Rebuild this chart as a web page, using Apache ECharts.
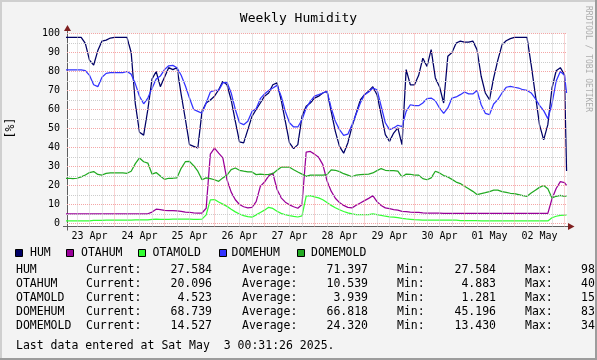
<!DOCTYPE html>
<html><head><meta charset="utf-8">
<script src="https://cdn.jsdelivr.net/npm/echarts@6/dist/echarts.min.js"></script>
<style>html,body{margin:0;padding:0;background:#f3f3f3}#c{width:597px;height:360px}</style>
</head><body><div id="c"></div>
<script>
// hours since 23 Apr 00:00
const times = [0,2,4,6,8,10,12,14,16,18,20,22,24,26,28,30,32,34,36,38,40,42,44,46,48,50,52,54,56,58,60,62,64,66,68,70,72,74,76,78,80,82,84,86,88,90,92,94,96,98,100,102,104,106,108,110,112,114,116,118,120,122,124,126,128,130,132,134,136,138,140,142,144,146,148,150,152,154,156,158,160,162,164,166,168,170,172,174,176,178,180,182,184,186,188,190,192,194,196,198,200,202,204,206,208,210,212,214,216,218,220,222,224,226,228,230,232,234,236,238,240,241];

const hum = [98,98,98,98,98,94.8,86,83.4,91,96,96.5,97.6,98,98,98,98,90,63,48,46.5,60,76,80,72,77,82,81,82,68,55,41.5,
40.6,39.7,59,63.4,65,67,70.4,74.8,73,65,53.8,43,42.4,49.4,56.4,60,63.4,67,68.7,73,74,65,53.8,42.4,39.4,41.5,56.4,61.7,63.4,66,
67,68.7,69.6,59,48.5,40.6,37,42.4,51,58,65,67.8,69.6,72,67.8,57.3,46.8,43.2,47.6,50.3,41.5,81,73,73,78,87,82.7,91.5,76.6,72,
63.4,88,90,95,96,95.5,95.5,96,91.5,77.5,68.7,65.2,76.6,86,94,96.2,97.3,98,98,98,98,83.6,67.8,52,44,52,71.3,80.4,82,78.3,27.6];

const otahum = [5.1,5.1,5.1,5.1,5.1,5.1,5.1,5.1,5.1,5.1,5.1,5.1,5.1,5.1,5.1,5.1,5.1,5.1,5.1,5.1,5.1,6,7.5,7.3,6.9,6.8,6.8,6.6,6.4,6,5.9,
5.6,5.5,5.5,8,36.5,39.7,37,34.5,23,16.5,12.5,10,8.8,8.2,8.5,11.5,19.5,21.8,25,26.5,18,13.5,11.2,9.8,8.8,8,10,37.6,37.9,36.5,
34.8,31,22.5,17,13.3,11,9.5,8.5,8.2,9.6,10.8,12,13.2,14.6,11.5,9.5,8.2,7.8,7.3,7,6.4,6.2,6,5.9,5.8,5.6,5.5,5.5,5.4,5.4,
5.3,5.3,5.3,5.3,5.3,5.3,5.3,5.3,5.3,5.3,5.3,5.3,5.3,5.3,5.3,5.3,5.3,5.3,5.3,5.3,5.3,5.3,5.3,5.3,5.3,5.3,13,18.4,22,21.5,20.1];

const otamold = [1.3,1.3,1.3,1.3,1.3,1.3,1.4,1.6,1.6,1.6,1.7,1.8,1.8,1.8,1.8,1.8,1.8,1.9,1.9,1.9,1.9,2.2,2.3,2.2,2.2,2.2,2.3,2.3,2.3,2.3,2.3,
2.2,2.2,2.3,4.5,12.4,12.6,11.3,10.2,9,7.5,6.1,5,4.1,3.6,3.3,4.5,5.8,7,8.5,7.9,6.4,5.3,4.6,4.1,3.7,3.4,4,14.4,14.6,14,
13.5,12.5,11,9.5,8.3,7.2,6.3,5.6,5,4.7,4.6,4.6,4.7,5,4.6,4.2,3.8,3.5,3.3,3.1,2.7,2.4,2.2,2,1.9,1.8,1.7,1.7,1.7,1.7,
1.8,1.8,1.8,1.7,1.5,1.5,1.5,1.5,1.5,1.4,1.3,1.3,1.3,1.3,1.3,1.3,1.3,1.3,1.3,1.3,1.3,1.3,1.3,1.3,1.3,1.3,3,3.8,4.2,4.4,4.5];

const domehum = [80.8,80.8,80.8,80.8,80.8,80.5,78,73,72,77,79,79.4,79.4,79.4,79.4,80,78.6,73.5,67,63,66,71,76,77.6,81,83,83.2,82,78,72.5,66,
60,59,58,63.4,69.2,70,70,74,74.3,68.7,60,53,52,53.8,59,60.4,65.7,68.2,70,71.3,72.7,67,59,53,50.8,50.8,54.6,60.8,64.3,67,
67.8,68.7,69.6,60.8,53.8,49.4,46.4,47,52,57.6,63.4,67.8,69.2,71.3,70.4,61.7,53,49.4,50.3,51.7,51,59,62.5,62,62,63.4,65.7,66,64.6,60.8,
58,60.8,66,66.6,67.8,69.2,68.2,68.2,70,62.5,58,57.3,62.9,65.2,68.7,71.7,72.2,71.7,71.3,70.4,70,68.7,65.7,62.2,59.4,55.2,63,75,80,78,68.7];

const domemold = [23.8,23.8,23.6,23.8,24.5,25.5,26.8,27.3,25.8,25.5,26.4,26.6,26.6,26.6,26.6,26.4,27.5,31.5,34.5,32.5,31.8,26,26.8,25,23.2,23.8,23.8,24,29,32.5,32.7,
30.4,27.5,23,24,23.6,23,22.2,24,25.4,28.3,29.2,28,27.5,27.1,27.1,25.7,26,25.7,25.9,26.2,28,29.6,29.6,29.6,28.3,27.1,26,24.8,25.4,25.4,
25.4,25.4,25.7,28.2,28,27.3,26.2,25.4,24.6,25.5,25.7,25.9,26,26.6,27.8,28.9,28,27.8,27.8,27.5,24.5,26,25.9,25.4,25.4,23.6,23,24,27.5,26.6,
25.2,24.5,23.2,21.8,21,19.6,18.3,16.9,15.2,15.7,16.2,16.8,17.5,17.5,16.8,16.4,15.9,15.7,15.2,14.6,14.3,16,17.5,19,20,18.3,13.4,14.3,14.8,14.3,14.5];

const dayLabels = ['23 Apr','24 Apr','25 Apr','26 Apr','27 Apr','28 Apr','29 Apr','30 Apr','01 May','02 May'];
const dayLabelHours = [12,36,60,84,108,132,156,180,204,228];
const yTickValues = [0,10,20,30,40,50,60,70,80,90,100];

const seriesNames = ['HUM','OTAHUM','OTAMOLD','DOMEHUM','DOMEMOLD'];
const curVals = ['27.584','20.096','4.523','68.739','14.527'];
const avgVals = ['71.397','10.539','3.939','66.818','24.320'];
const minVals = ['27.584','4.883','1.281','45.196','13.430'];
const maxVals = ['98','40','15','83','34'];
const lastUpdate = 'Last data entered at Sat May  3 00:31:26 2025.';

const colors = ['#000066','#990099','#33ff33','#3333ff','#22aa22'];
const seriesValues = [hum, otahum, otamold, domehum, domemold];

const MONO = 'DejaVu Sans Mono';
const RED = '#f4a6a6';
const GRAY = '#cccccc';
const AXIS = '#5e5e5e';

const gridLines = [];
for (let h = 6; h <= 240; h += 6) {
  const li = dayLabelHours.indexOf(h);
  gridLines.push({
    xAxis: h,
    lineStyle: {color: h % 24 === 0 ? RED : GRAY, type: [1,1], width: 1},
    label: li >= 0
      ? {show: true, position: 'start', distance: 5, formatter: dayLabels[li], color: '#000', fontFamily: MONO, fontSize: 10}
      : {show: false}
  });
}
for (let v = 0; v <= 100; v += 5) {
  const labelled = yTickValues.indexOf(v) >= 0;
  gridLines.push({
    yAxis: v,
    lineStyle: {color: v % 10 === 0 ? RED : GRAY, type: [1,1], width: 1},
    label: labelled
      ? {show: true, position: 'start', distance: 7, formatter: String(v), color: '#000', fontFamily: MONO, fontSize: 10}
      : {show: false}
  });
}

const series = [{
  type: 'line', name: '_grid', data: [], z: 1, silent: true,
  markLine: {silent: true, symbol: ['none','none'], animation: false, emphasis: {disabled: true}, data: gridLines}
}];
seriesNames.forEach((n, i) => {
  series.push({
    type: 'line', name: n, z: 3, symbol: 'none', showSymbol: false, silent: true, animation: false,
    lineStyle: {color: colors[i], width: 1.25}, itemStyle: {color: colors[i]},
    data: times.map((t, k) => [t, seriesValues[i][k]])
  });
});

const graphic = [];
graphic.push({type:'rect', shape:{x:0,y:0,width:597,height:2}, style:{fill:'#cfcfcf'}, silent:true});
graphic.push({type:'rect', shape:{x:0,y:0,width:2,height:360}, style:{fill:'#cfcfcf'}, silent:true});
graphic.push({type:'rect', shape:{x:0,y:358,width:597,height:2}, style:{fill:'#9c9c9c'}, silent:true, z:100});
graphic.push({type:'rect', shape:{x:595,y:0,width:2,height:360}, style:{fill:'#9c9c9c'}, silent:true, z:100});
graphic.push({type:'line', shape:{x1:67.5,y1:33.5,x2:67.5,y2:30}, style:{stroke:AXIS,lineWidth:1}, silent:true});
graphic.push({type:'line', shape:{x1:67.5,y1:226.5,x2:67.5,y2:230.5}, style:{stroke:AXIS,lineWidth:1}, silent:true});
graphic.push({type:'line', shape:{x1:63,y1:226.5,x2:67,y2:226.5}, style:{stroke:AXIS,lineWidth:1}, silent:true});
graphic.push({type:'line', shape:{x1:567,y1:226.5,x2:569,y2:226.5}, style:{stroke:AXIS,lineWidth:1}, silent:true});
graphic.push({type:'polygon', shape:{points:[[64,31],[67.5,25],[71,31]]}, style:{fill:'#7f1f1f'}, silent:true});
graphic.push({type:'polygon', shape:{points:[[568,223],[574.5,226.5],[568,230]]}, style:{fill:'#7f1f1f'}, silent:true});
graphic.push({type:'text', x:11, y:128, rotation:Math.PI/2, style:{text:'[%]', fill:'#000', font:'11.5px "DejaVu Sans Mono"', align:'center', verticalAlign:'middle'}, silent:true});
graphic.push({type:'text', x:588, y:59, rotation:-Math.PI/2, style:{text:'RRDTOOL / TOBI OETIKER', fill:'#adadad', font:'8px "DejaVu Sans Mono"', align:'center', verticalAlign:'middle'}, silent:true});
const legSq = [15.5, 66.5, 138.5, 219.5, 297.5];
const legTx = [30, 81, 152.5, 231.5, 311];
seriesNames.forEach((n, i) => {
  graphic.push({type:'rect', shape:{x:legSq[i], y:249.5, width:7, height:7}, style:{fill:colors[i], stroke:'#000', lineWidth:1}, silent:true});
  graphic.push({type:'text', x:legTx[i], y:252.7, style:{text:n, fill:'#000', font:'11.5px "DejaVu Sans Mono"', align:'left', verticalAlign:'middle'}, silent:true});
});
const rowY = [270.5, 284.4, 298.2, 312.1, 326];
seriesNames.forEach((n, i) => {
  const y = rowY[i];
  const f = '11.5px "DejaVu Sans Mono"';
  const t = (x, s, a) => graphic.push({type:'text', x:x, y:y, style:{text:s, fill:'#000', font:f, align:a, verticalAlign:'middle'}, silent:true});
  t(16, n, 'left');
  t(86, 'Current:', 'left');
  t(212, curVals[i], 'right');
  t(242, 'Average:', 'left');
  t(368, avgVals[i], 'right');
  t(397, 'Min:', 'left');
  t(496, minVals[i], 'right');
  t(525, 'Max:', 'left');
  t(581, maxVals[i], 'left');
});
graphic.push({type:'text', x:16, y:346, style:{text:lastUpdate, fill:'#000', font:'11.5px "DejaVu Sans Mono"', align:'left', verticalAlign:'middle'}, silent:true});

const chart = echarts.init(document.getElementById('c'), null, {renderer:'canvas'});
chart.setOption({
  animation: false,
  backgroundColor: '#f3f3f3',
  title: {text: 'Weekly Humidity', left: 'center', top: 7, textStyle: {fontFamily: MONO, fontSize: 13, fontWeight: 'normal', color: '#000'}},
  grid: {left: 67, top: 33.5, width: 500, height: 193, show: true, backgroundColor: '#ffffff', borderWidth: 0},
  xAxis: {type: 'value', min: 1.2, max: 241.2, axisLine: {show: true, onZero: false, lineStyle: {color: AXIS, width: 1}}, axisTick: {show: false}, axisLabel: {show: false}, splitLine: {show: false}},
  yAxis: {type: 'value', min: -1.6, max: 100, axisLine: {show: true, lineStyle: {color: AXIS, width: 1}}, axisTick: {show: false}, axisLabel: {show: false}, splitLine: {show: false}},
  series: series,
  graphic: graphic
});
</script>
</body></html>
